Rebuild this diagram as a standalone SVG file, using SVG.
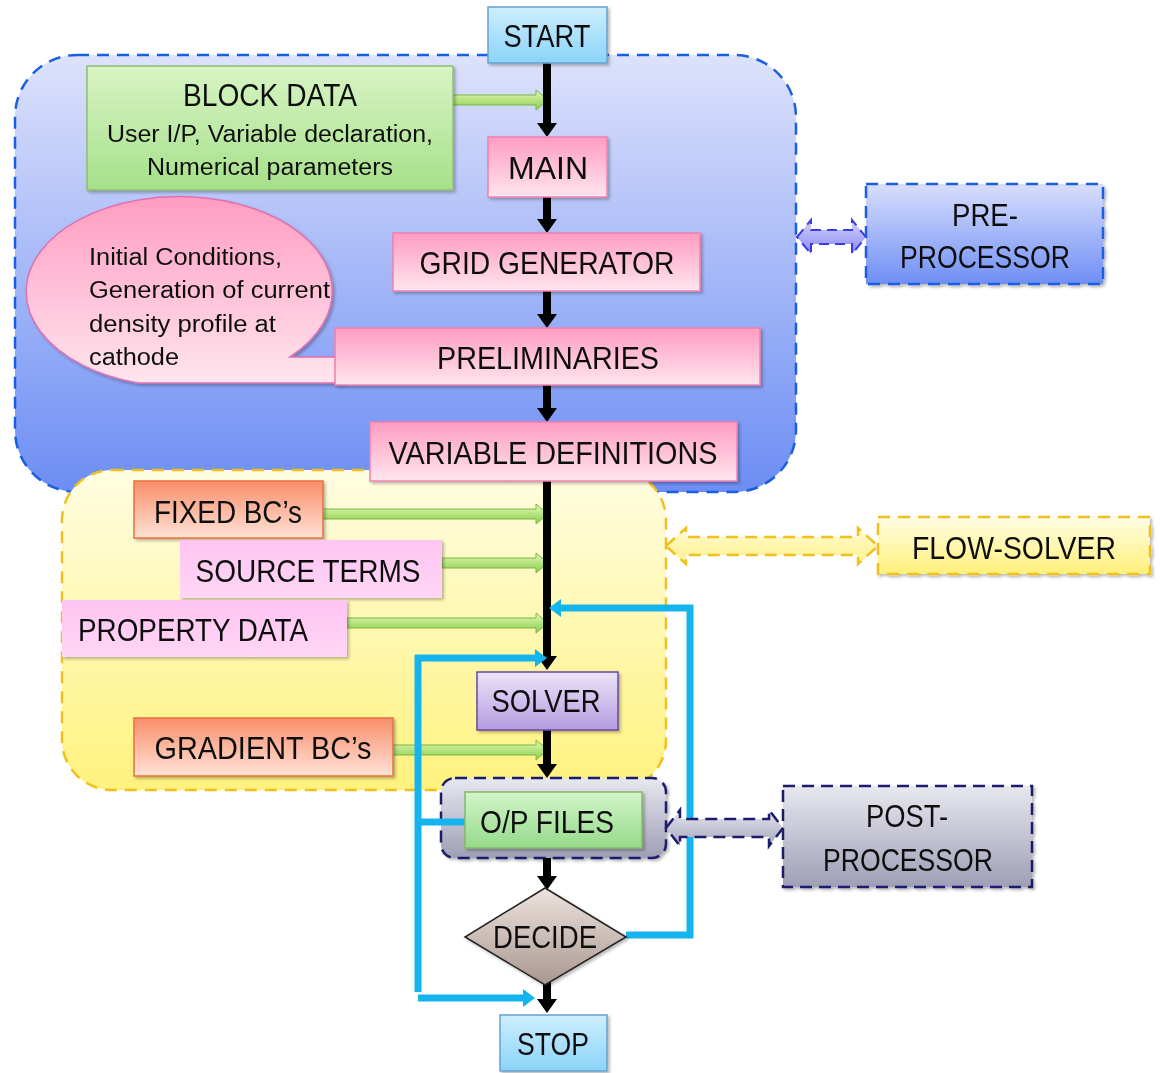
<svg xmlns="http://www.w3.org/2000/svg" width="1160" height="1073" viewBox="0 0 1160 1073">
<style>
  text { font-family: "Liberation Sans", Arial, sans-serif; fill: #111; }
  .big { font-size: 31px; text-anchor: middle; }
  .small { font-size: 23px; text-anchor: middle; }
  .left { font-size: 23px; text-anchor: start; }
  .black { stroke: #000; stroke-width: 8; fill: none; }
  .cyan { stroke: #14b4ee; stroke-width: 7; fill: none; }
  .green { fill: url(#gGreenArrow); stroke: #78b840; stroke-width: 1; }
  .box { filter: url(#sh); }
</style>
<defs>
  <filter id="sh" x="-10%" y="-10%" width="130%" height="140%">
    <feDropShadow dx="2" dy="2" stdDeviation="1.5" flood-color="#000" flood-opacity="0.28"/>
  </filter>
  <linearGradient id="gBlueRegion" x1="0" y1="0" x2="0" y2="1"><stop offset="0" stop-color="#dde2fb"/><stop offset="1" stop-color="#6c8df4"/></linearGradient>
  <linearGradient id="gYellowRegion" x1="0" y1="0" x2="0" y2="1"><stop offset="0" stop-color="#fffde2"/><stop offset="1" stop-color="#fff27e"/></linearGradient>
  <linearGradient id="gStart" x1="0" y1="0" x2="0" y2="1"><stop offset="0" stop-color="#cdeeff"/><stop offset="1" stop-color="#8bd3f7"/></linearGradient>
  <linearGradient id="gPink" x1="0" y1="0" x2="0" y2="1"><stop offset="0" stop-color="#ff9cc1"/><stop offset="1" stop-color="#ffe5ee"/></linearGradient>
  <linearGradient id="gBlock" x1="0" y1="0" x2="0" y2="1"><stop offset="0" stop-color="#d8f4c4"/><stop offset="1" stop-color="#a6e08a"/></linearGradient>
  <linearGradient id="gOrange" x1="0" y1="0" x2="0" y2="1"><stop offset="0" stop-color="#f88e6a"/><stop offset="1" stop-color="#ffe2d6"/></linearGradient>
  <linearGradient id="gMagenta" x1="0" y1="0" x2="0" y2="1"><stop offset="0" stop-color="#ffc4f2"/><stop offset="1" stop-color="#ffd6f6"/></linearGradient>
  <linearGradient id="gSolver" x1="0" y1="0" x2="0" y2="1"><stop offset="0" stop-color="#ebe3f9"/><stop offset="1" stop-color="#b49ce0"/></linearGradient>
  <linearGradient id="gOPFiles" x1="0" y1="0" x2="0" y2="1"><stop offset="0" stop-color="#d2f5ca"/><stop offset="1" stop-color="#96da8a"/></linearGradient>
  <linearGradient id="gGray" x1="0" y1="0" x2="0" y2="1"><stop offset="0" stop-color="#e8e8f0"/><stop offset="1" stop-color="#9e9eb6"/></linearGradient>
  <linearGradient id="gDecide" x1="0" y1="0" x2="0" y2="1"><stop offset="0" stop-color="#eee3df"/><stop offset="1" stop-color="#a8978f"/></linearGradient>
  <linearGradient id="gPre" x1="0" y1="0" x2="0" y2="1"><stop offset="0" stop-color="#d8defc"/><stop offset="1" stop-color="#6f8ff5"/></linearGradient>
  <linearGradient id="gFlow" x1="0" y1="0" x2="0" y2="1"><stop offset="0" stop-color="#fffde4"/><stop offset="1" stop-color="#fff07a"/></linearGradient>
  <linearGradient id="gGreenArrow" x1="0" y1="0" x2="0" y2="1"><stop offset="0" stop-color="#e2fab4"/><stop offset="1" stop-color="#8ccc4c"/></linearGradient>
  <linearGradient id="gPreArrow" x1="0" y1="0" x2="0" y2="1"><stop offset="0" stop-color="#d0d0ff"/><stop offset="1" stop-color="#8c8cf0"/></linearGradient>
  <linearGradient id="gFlowArrow" x1="0" y1="0" x2="0" y2="1"><stop offset="0" stop-color="#fffbd0"/><stop offset="1" stop-color="#fff08a"/></linearGradient>
  <linearGradient id="gPostArrow" x1="0" y1="0" x2="0" y2="1"><stop offset="0" stop-color="#e4e4ee"/><stop offset="1" stop-color="#a8a8c0"/></linearGradient>
  <marker id="mBlack" markerUnits="userSpaceOnUse" markerWidth="14" markerHeight="20" viewBox="0 -10 14 20" refX="0" refY="0" orient="auto" overflow="visible">
    <path d="M0,-10 L14,0 L0,10 z" fill="#000"/>
  </marker>
  <marker id="mCyan" markerUnits="userSpaceOnUse" markerWidth="12" markerHeight="18" viewBox="0 -9 12 18" refX="0" refY="0" orient="auto" overflow="visible">
    <path d="M0,-9 L12,0 L0,9 z" fill="#14b4ee"/>
  </marker>
</defs>

<rect width="1160" height="1073" fill="#fff"/>

<!-- grouping regions -->
<g id="pre-processor-region">
  <rect x="15" y="55" width="781" height="437" rx="62" ry="62" fill="url(#gBlueRegion)" stroke="#1a5fe0" stroke-width="2.5" stroke-dasharray="12 8"/>
</g>
<g id="flow-solver-region">
  <rect x="62" y="470" width="604" height="320" rx="50" ry="50" fill="url(#gYellowRegion)" stroke="#f0c020" stroke-width="2.5" stroke-dasharray="12 8"/>
</g>
<g id="op-container">
  <rect x="441" y="778" width="225" height="80" rx="14" ry="14" fill="url(#gGray)" stroke="#1c1c6c" stroke-width="2.5" stroke-dasharray="12 7" class="box"/>
</g>

<!-- connectors -->
<g id="connectors">
  <!-- green input arrows -->
  <polygon class="green" points="453,95 536,95 536,90 548,100 536,110 536,105 453,105"/>
  <polygon class="green" points="323,509 536,509 536,504 548,514 536,524 536,519 323,519"/>
  <polygon class="green" points="442,558 536,558 536,553 548,563 536,573 536,568 442,568"/>
  <polygon class="green" points="347,618 536,618 536,613 548,623 536,633 536,628 347,628"/>
  <polygon class="green" points="393,745 536,745 536,740 548,750 536,760 536,755 393,755"/>
  <!-- main black flow -->
  <line class="black" x1="547" y1="63" x2="547" y2="123" marker-end="url(#mBlack)"/>
  <line class="black" x1="547" y1="197" x2="547" y2="219" marker-end="url(#mBlack)"/>
  <line class="black" x1="547" y1="291" x2="547" y2="314" marker-end="url(#mBlack)"/>
  <line class="black" x1="547" y1="385" x2="547" y2="408" marker-end="url(#mBlack)"/>
  <line class="black" x1="547" y1="481" x2="547" y2="656" marker-end="url(#mBlack)"/>
  <line class="black" x1="547" y1="730" x2="547" y2="764" marker-end="url(#mBlack)"/>
  <line class="black" x1="547" y1="858" x2="547" y2="876" marker-end="url(#mBlack)"/>
  <line class="black" x1="547" y1="976" x2="547" y2="999" marker-end="url(#mBlack)"/>
  <!-- cyan loops -->
  <path class="cyan" d="M626,935 H690 V608 H561" marker-end="url(#mCyan)"/>
  <path class="cyan" d="M465,822 H418"/>
  <path class="cyan" d="M418,655 V992"/>
  <path class="cyan" d="M415,658 H535" marker-end="url(#mCyan)"/>
  <path class="cyan" d="M418,998 H523" marker-end="url(#mCyan)"/>
  <!-- double arrows to side boxes -->
  <path d="M797,237 L811,220 L811,230 L852,230 L852,220 L866,237 L852,254 L852,244 L811,244 L811,254 Z" fill="url(#gPreArrow)" stroke="#3b3be6" stroke-width="2" stroke-dasharray="10 6"/>
  <path d="M666,546 L686,528 L686,537 L858,537 L858,528 L878,546 L858,564 L858,555 L686,555 L686,564 Z" fill="url(#gFlowArrow)" stroke="#f0c020" stroke-width="2.5" stroke-dasharray="12 7"/>
  <path d="M666,828 L680,810 L680,819 L769,819 L769,810 L783,828 L769,846 L769,837 L680,837 L680,846 Z" fill="url(#gPostArrow)" stroke="#1c1c6c" stroke-width="2.5" stroke-dasharray="12 7"/>
</g>

<!-- nodes -->
<g id="start" class="box">
  <rect x="488" y="7" width="119" height="56" fill="url(#gStart)" stroke="#6aa0d0" stroke-width="1.5"/>
  <text class="big" x="547" y="47" textLength="87" lengthAdjust="spacingAndGlyphs">START</text>
</g>
<g id="block-data" class="box">
  <rect x="87" y="66" width="366" height="124" fill="url(#gBlock)" stroke="#8cc070" stroke-width="1.5"/>
  <text class="big" x="270" y="106" textLength="174" lengthAdjust="spacingAndGlyphs">BLOCK DATA</text>
  <text class="small" x="270" y="142" textLength="326" lengthAdjust="spacingAndGlyphs">User I/P, Variable declaration,</text>
  <text class="small" x="270" y="175" textLength="246" lengthAdjust="spacingAndGlyphs">Numerical parameters</text>
</g>
<g id="main" class="box">
  <rect x="488" y="137" width="119" height="60" fill="url(#gPink)" stroke="#f080b0" stroke-width="1.5"/>
  <text class="big" x="548" y="179" textLength="80" lengthAdjust="spacingAndGlyphs">MAIN</text>
</g>
<g id="grid-generator" class="box">
  <rect x="393" y="233" width="307" height="58" fill="url(#gPink)" stroke="#f080b0" stroke-width="1.5"/>
  <text class="big" x="547" y="274" textLength="255" lengthAdjust="spacingAndGlyphs">GRID GENERATOR</text>
</g>
<g id="initial-conditions" class="box">
  <path d="M290,357 L345,357 L345,383 L138,383 A153,95 0 1 1 290,357 Z" fill="url(#gPink)" stroke="#e070b0" stroke-width="1.5"/>
  <text class="left" x="89" y="265" textLength="193" lengthAdjust="spacingAndGlyphs">Initial Conditions,</text>
  <text class="left" x="89" y="298" textLength="241" lengthAdjust="spacingAndGlyphs">Generation of current</text>
  <text class="left" x="89" y="332" textLength="187" lengthAdjust="spacingAndGlyphs">density profile at</text>
  <text class="left" x="89" y="365" textLength="90" lengthAdjust="spacingAndGlyphs">cathode</text>
</g>
<g id="preliminaries" class="box">
  <rect x="335" y="328" width="425" height="57" fill="url(#gPink)" stroke="#f080b0" stroke-width="1.5"/>
  <text class="big" x="548" y="369" textLength="222" lengthAdjust="spacingAndGlyphs">PRELIMINARIES</text>
</g>
<g id="variable-definitions" class="box">
  <rect x="370" y="422" width="367" height="59" fill="url(#gPink)" stroke="#f080b0" stroke-width="1.5"/>
  <text class="big" x="553" y="464" textLength="329" lengthAdjust="spacingAndGlyphs">VARIABLE DEFINITIONS</text>
</g>
<g id="pre-processor" class="box">
  <rect x="866" y="184" width="237" height="100" fill="url(#gPre)" stroke="#1a5fe0" stroke-width="2.5" stroke-dasharray="12 8"/>
  <text class="big" x="985" y="226" textLength="66" lengthAdjust="spacingAndGlyphs">PRE-</text>
  <text class="big" x="985" y="268" textLength="170" lengthAdjust="spacingAndGlyphs">PROCESSOR</text>
</g>
<g id="fixed-bcs" class="box">
  <rect x="134" y="481" width="189" height="57" fill="url(#gOrange)" stroke="#e8703c" stroke-width="1.5"/>
  <text class="big" x="228" y="523" textLength="148" lengthAdjust="spacingAndGlyphs">FIXED BC’s</text>
</g>
<g id="source-terms" class="box">
  <rect x="180" y="540" width="262" height="58" fill="url(#gMagenta)"/>
  <text class="big" x="308" y="582" textLength="225" lengthAdjust="spacingAndGlyphs">SOURCE TERMS</text>
</g>
<g id="property-data" class="box">
  <rect x="62" y="600" width="285" height="57" fill="url(#gMagenta)"/>
  <text class="big" x="193" y="641" textLength="230" lengthAdjust="spacingAndGlyphs">PROPERTY DATA</text>
</g>
<g id="flow-solver" class="box">
  <rect x="878" y="517" width="272" height="57" fill="url(#gFlow)" stroke="#f0c020" stroke-width="2.5" stroke-dasharray="12 8"/>
  <text class="big" x="1014" y="559" textLength="204" lengthAdjust="spacingAndGlyphs">FLOW-SOLVER</text>
</g>
<g id="solver" class="box">
  <rect x="477" y="672" width="141" height="58" fill="url(#gSolver)" stroke="#6848a0" stroke-width="1.5"/>
  <text class="big" x="546" y="712" textLength="109" lengthAdjust="spacingAndGlyphs">SOLVER</text>
</g>
<g id="gradient-bcs" class="box">
  <rect x="134" y="718" width="259" height="58" fill="url(#gOrange)" stroke="#e8703c" stroke-width="1.5"/>
  <text class="big" x="263" y="759" textLength="217" lengthAdjust="spacingAndGlyphs">GRADIENT BC’s</text>
</g>
<g id="op-files" class="box">
  <rect x="465" y="792" width="177" height="56" fill="url(#gOPFiles)" stroke="#88b868" stroke-width="1.5"/>
  <text class="big" x="547" y="833" textLength="134" lengthAdjust="spacingAndGlyphs">O/P FILES</text>
</g>
<g id="post-processor" class="box">
  <rect x="783" y="786" width="249" height="101" fill="url(#gGray)" stroke="#1c1c6c" stroke-width="2.5" stroke-dasharray="12 7"/>
  <text class="big" x="907" y="827" textLength="82" lengthAdjust="spacingAndGlyphs">POST-</text>
  <text class="big" x="908" y="871" textLength="170" lengthAdjust="spacingAndGlyphs">PROCESSOR</text>
</g>
<g id="decide" class="box">
  <polygon points="545,888 626,937 545,985 465,937" fill="url(#gDecide)" stroke="#222" stroke-width="1.5"/>
  <text class="big" x="545" y="948" textLength="104" lengthAdjust="spacingAndGlyphs">DECIDE</text>
</g>
<g id="stop" class="box">
  <rect x="500" y="1015" width="107" height="56" fill="url(#gStart)" stroke="#6aa0d0" stroke-width="1.5"/>
  <text class="big" x="553" y="1055" textLength="72" lengthAdjust="spacingAndGlyphs">STOP</text>
</g>
</svg>
